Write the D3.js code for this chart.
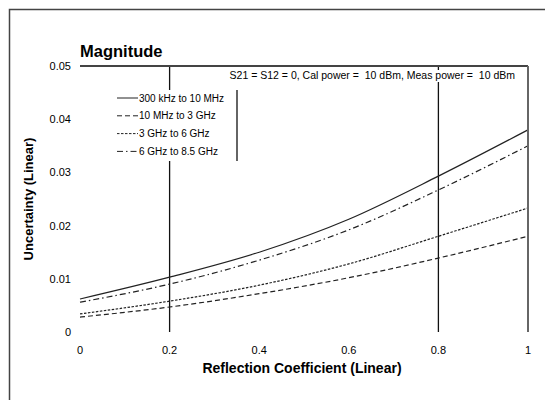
<!DOCTYPE html>
<html>
<head>
<meta charset="utf-8">
<script src="https://cdn.jsdelivr.net/npm/d3@7"></script>
<style>
  body { margin: 0; background: #fff; }
  svg { display: block; font-family: "Liberation Sans", Arial, sans-serif; }
</style>
</head>
<body>
<div id="chart"></div>
<script>
// reflection coefficient sample points
const reflection = [0, 0.2, 0.4, 0.6, 0.8, 1.0];

// uncertainty per band
const band300k = [0.0062, 0.0103, 0.0150, 0.0212, 0.0293, 0.0380];
const band10M = [0.0028, 0.0047, 0.0072, 0.0102, 0.0139, 0.0180];
const band3G = [0.0034, 0.0058, 0.0088, 0.0128, 0.0180, 0.0233];
const band6G = [0.0056, 0.0090, 0.0135, 0.0192, 0.0267, 0.0350];

const seriesNames = ["300 kHz to 10 MHz", "10 MHz to 3 GHz", "3 GHz to 6 GHz", "6 GHz to 8.5 GHz"];
const seriesDash = [null, "5,3", "2.5,1.5", "6,3,1.5,3"];

const xTicks = [0, 0.2, 0.4, 0.6, 0.8, 1];
const yTicks = [0, 0.01, 0.02, 0.03, 0.04, 0.05];
const markerLines = [0.2, 0.8];

const series = [band300k, band10M, band3G, band6G].map((vals, i) => ({
    name: seriesNames[i],
    dash: seriesDash[i],
    values: vals.map((v, j) => ({x: reflection[j], y: v}))
}));

const width = 545, height = 400;
const x = d3.scaleLinear().domain([0, 1]).range([80, 528]);
const y = d3.scaleLinear().domain([0, 0.05]).range([332, 66]);

const svg = d3.select("#chart").append("svg")
    .attr("width", width)
    .attr("height", height);

// outer frame
svg.append("path")
    .attr("d", `M9.5,${height} V9.5 H${width}`)
    .attr("fill", "none")
    .attr("stroke", "#444")
    .attr("stroke-width", 1.5);

// title
svg.append("text")
    .attr("x", 80)
    .attr("y", 57)
    .attr("font-size", 16.5)
    .attr("font-weight", "bold")
    .text("Magnitude");

// vertical markers
svg.selectAll(".marker")
    .data(markerLines)
    .join("line")
    .attr("class", "marker")
    .attr("x1", d => x(d)).attr("x2", d => x(d))
    .attr("y1", y(0.05)).attr("y2", y(0))
    .attr("stroke", "#111").attr("stroke-width", 1.3);

// curves
const line = d3.line()
    .x(d => x(d.x))
    .y(d => y(d.y))
    .curve(d3.curveMonotoneX);

svg.selectAll(".curve")
    .data(series)
    .join("path")
    .attr("class", "curve")
    .attr("d", d => line(d.values))
    .attr("fill", "none")
    .attr("stroke", "#222")
    .attr("stroke-width", 1.2)
    .attr("stroke-dasharray", d => d.dash);

// y tick labels
svg.selectAll(".ytick")
    .data(yTicks)
    .join("text")
    .attr("class", "ytick")
    .attr("x", 71)
    .attr("y", d => y(d) + 4)
    .attr("text-anchor", "end")
    .attr("font-size", 11)
    .text(d => d === 0 ? "0" : d3.format(".2f")(d));

// x tick labels
svg.selectAll(".xtick")
    .data(xTicks)
    .join("text")
    .attr("class", "xtick")
    .attr("x", d => x(d))
    .attr("y", 354)
    .attr("text-anchor", "middle")
    .attr("font-size", 11)
    .text(d => d === 0 || d === 1 ? String(d) : d3.format(".1f")(d));

// axis titles
svg.append("text")
    .attr("x", 302)
    .attr("y", 373)
    .attr("text-anchor", "middle")
    .attr("font-size", 14)
    .attr("font-weight", "bold")
    .text("Reflection Coefficient (Linear)");

svg.append("text")
    .attr("transform", "translate(33,199) rotate(-90)")
    .attr("text-anchor", "middle")
    .attr("font-size", 13)
    .attr("font-weight", "bold")
    .text("Uncertainty (Linear)");

// annotation, with white backing so marker lines break behind it
const note = svg.append("g");
const noteBg = note.append("rect").attr("fill", "#fff");
const noteText = note.append("text")
    .attr("x", 515)
    .attr("y", 79)
    .attr("text-anchor", "end")
    .attr("font-size", 10.5)
    .attr("xml:space", "preserve")
    .style("white-space", "pre")
    .text("S21 = S12 = 0, Cal power =  10 dBm, Meas power =  10 dBm");
const nb = noteText.node().getBBox();
noteBg.attr("x", nb.x - 3).attr("y", 70)
    .attr("width", nb.width + 6).attr("height", 12);

// plot top and right border
svg.append("line")
    .attr("x1", x(0)).attr("x2", x(1))
    .attr("y1", y(0.05)).attr("y2", y(0.05))
    .attr("stroke", "#444").attr("stroke-width", 2);
svg.append("line")
    .attr("x1", x(1)).attr("x2", x(1))
    .attr("y1", y(0.05)).attr("y2", y(0))
    .attr("stroke", "#666").attr("stroke-width", 2);

// legend
const legend = svg.append("g");
legend.append("rect")
    .attr("x", 112).attr("y", 90)
    .attr("width", 125).attr("height", 71)
    .attr("fill", "#fff");
legend.append("line")
    .attr("x1", 237).attr("x2", 237)
    .attr("y1", 90).attr("y2", 161)
    .attr("stroke", "#111").attr("stroke-width", 1.3);

const item = legend.selectAll(".item")
    .data(series)
    .join("g")
    .attr("class", "item")
    .attr("transform", (d, i) => `translate(0,${98 + i * 17.8})`);
item.append("line")
    .attr("x1", 117).attr("x2", 138)
    .attr("stroke", "#222").attr("stroke-width", 1)
    .attr("stroke-dasharray", d => d.dash);
item.append("text")
    .attr("x", 139)
    .attr("y", 3.5)
    .attr("font-size", 10)
    .text(d => d.name);
</script>
</body>
</html>
